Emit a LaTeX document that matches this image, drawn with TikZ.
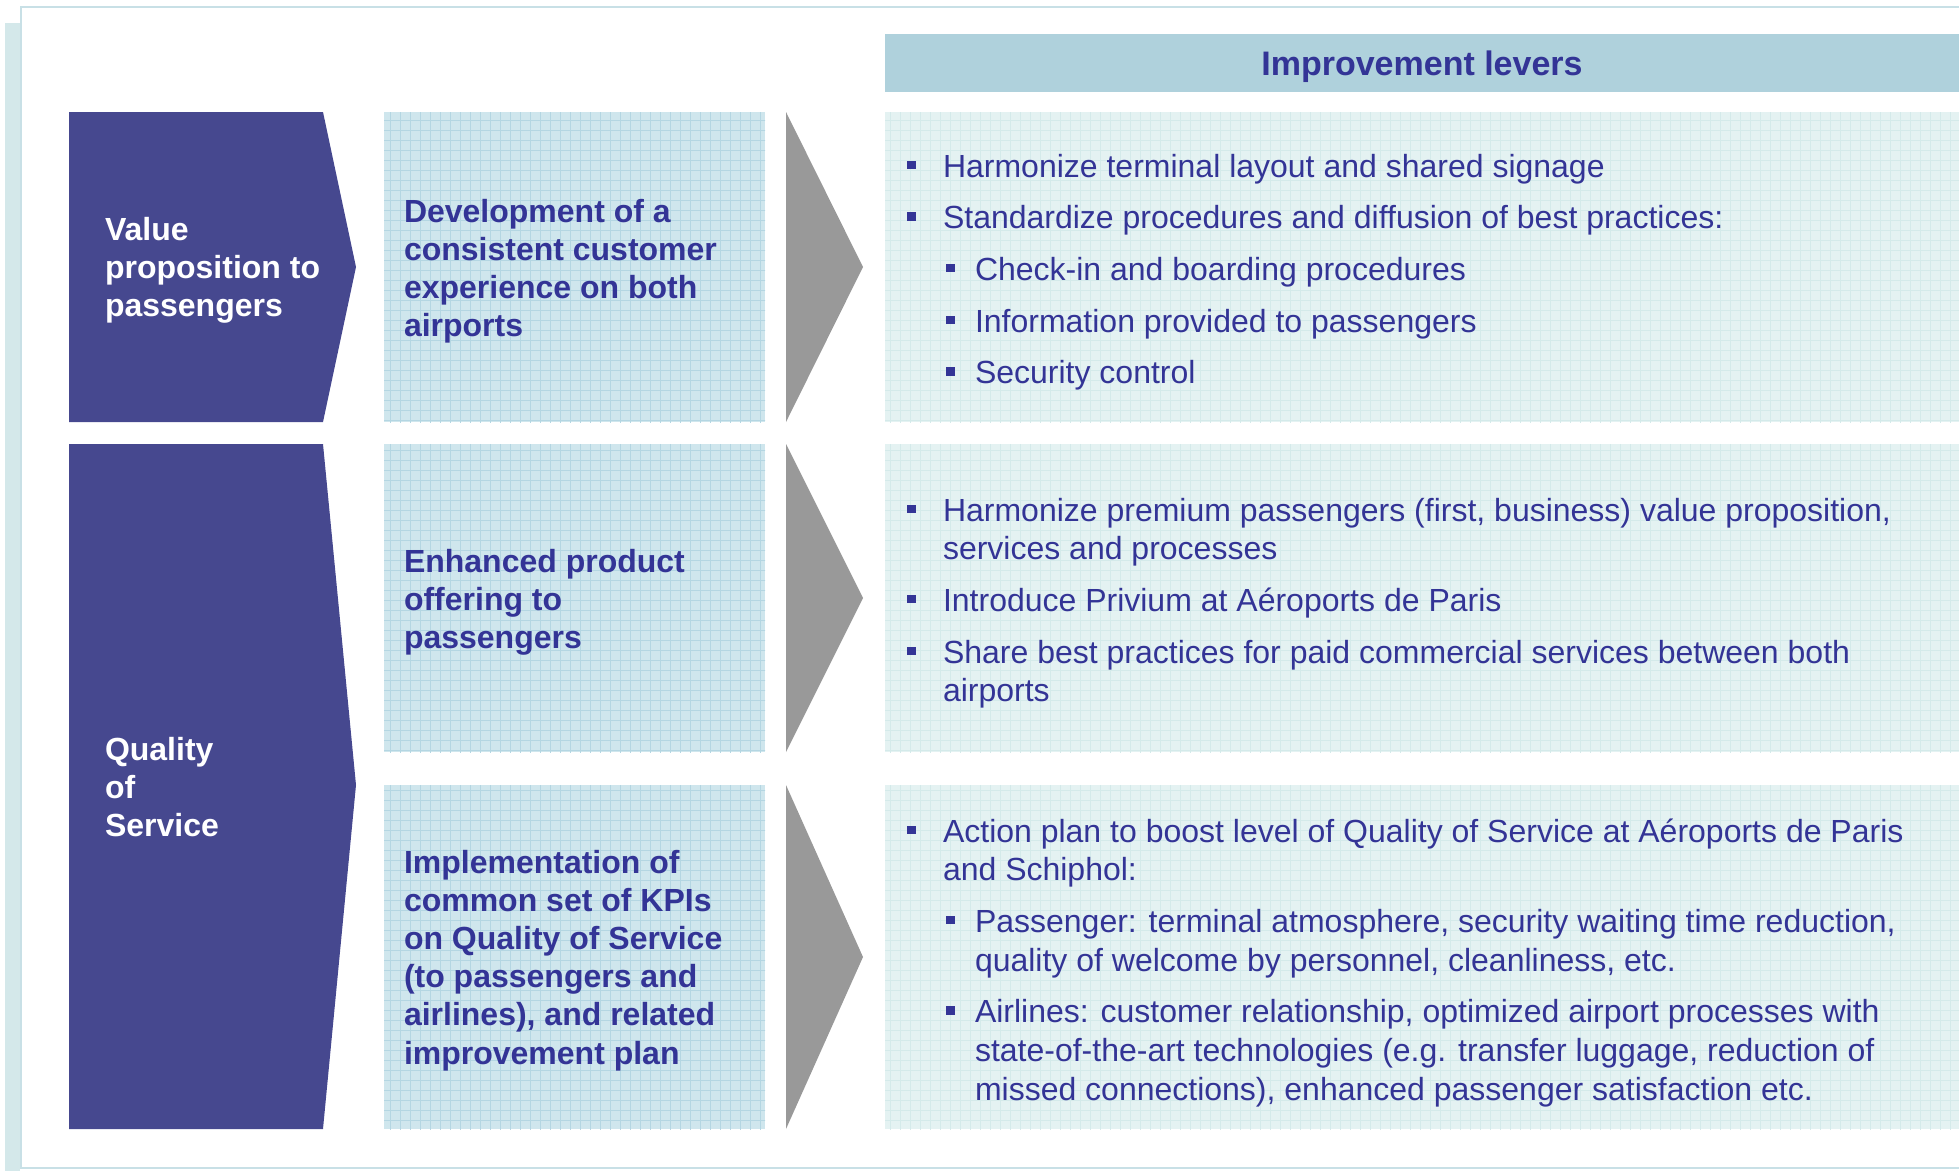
\documentclass[tikz,border=0pt]{standalone}
\usepackage{fontspec}
\setmainfont{Liberation Sans}
\definecolor{purpc}{RGB}{70,72,143}
\definecolor{txtc}{RGB}{51,52,150}
\definecolor{hdc}{RGB}{175,209,220}
\definecolor{midc}{RGB}{207,230,237}
\definecolor{midgrid}{RGB}{180,214,226}
\definecolor{rgtc}{RGB}{228,242,242}
\definecolor{rgtgrid}{RGB}{212,234,234}
\definecolor{greyc}{RGB}{153,153,153}
\definecolor{framec}{RGB}{200,224,230}
\definecolor{shadc}{RGB}{212,232,234}
\newcommand\lvbul{\makebox[36pt][l]{\raisebox{8pt}{\rule{8.5pt}{8.5pt}}}}
\newcommand\lvsub{\hspace*{39pt}\makebox[29pt][l]{\raisebox{8pt}{\rule{8.5pt}{8.5pt}}}}
\newcommand\lvind{\hspace*{36pt}}
\newcommand\lvsind{\hspace*{68pt}}
\newcommand\rtext[1]{\parbox[t]{1040pt}{\leavevmode\fontsize{32}{38.7}\selectfont\color{txtc}#1}}
\newcommand\mtext[1]{\parbox[t]{350pt}{\leavevmode\bfseries\fontsize{32}{38.2}\selectfont\color{txtc}#1}}
\newcommand\ptext[1]{\parbox[t]{240pt}{\leavevmode\bfseries\fontsize{32}{38}\selectfont\color{white}#1}}
\tikzset{
  purp/.style={fill=purpc},
  greyarrow/.style={fill=greyc},
  midgridstyle/.style={draw=midgrid, line width=0.8pt},
  rgtgridstyle/.style={draw=rgtgrid, line width=0.8pt},
  txtnode/.style={anchor=base west, inner sep=0pt, outer sep=0pt},
}
\begin{document}
\begin{tikzpicture}[x=1pt, y=-1pt]
\useasboundingbox (0,0) rectangle (1959,1171);
% frame
\fill[shadc] (5,23) rectangle (20,1171);
\draw[framec, line width=2pt] (1959,7) -- (21,7) -- (21,1168) -- (1959,1168);
% header
\fill[hdc] (885,34) rectangle (1959,92);
\node[anchor=base, inner sep=0pt, text=txtc, font=\bfseries\fontsize{34}{40}\selectfont] (hd) at (1422,75) {Improvement levers};
% purple chevrons
\fill[purp] (69,112) -- (323,112) -- (356,267) -- (323,422) -- (69,422) -- cycle;
\fill[purp] (69,444) -- (323,444) -- (356,785) -- (323,1129) -- (69,1129) -- cycle;
% middle boxes
\foreach \ya/\yb in {112/422, 444/752, 785/1129}{
  \fill[midc] (384,\ya) rectangle (765,\yb);
  \begin{scope}
    \clip (384,\ya) rectangle (765,\yb);
    \draw[midgridstyle, step=10pt] (380,\ya-10) grid (770,\yb+10);
  \end{scope}
  \fill[rgtc] (885,\ya) rectangle (1959,\yb);
  \begin{scope}
    \clip (885,\ya) rectangle (1959,\yb);
    \draw[rgtgridstyle, step=10pt] (880,\ya-10) grid (1960,\yb+10);
  \end{scope}
}
% grey arrows
\fill[greyarrow] (786,112) -- (863,267) -- (786,422) -- cycle;
\fill[greyarrow] (786,444) -- (863,598) -- (786,752) -- cycle;
\fill[greyarrow] (786,785) -- (863,957) -- (786,1129) -- cycle;
% purple texts
\node[txtnode] (p1) at (105,240) {\ptext{Value\\proposition to\\passengers}};
\node[txtnode] (p2) at (105,760) {\ptext{Quality\\of\\Service}};
% middle texts
\node[txtnode] (m1) at (404,222) {\mtext{Development of a\\consistent customer\\experience on both\\airports}};
\node[txtnode] (m2) at (404,572) {\mtext{Enhanced product\\offering to\\passengers}};
\node[txtnode] (m3) at (404,873) {\mtext{Implementation of\\common set of KPIs\\on Quality of Service\\(to passengers and\\airlines), and related\\improvement plan}};
% right texts
\node[txtnode] (r1) at (907,177) {\rtext{%
\lvbul Harmonize terminal layout and shared signage\\[13pt]
\lvbul Standardize procedures and diffusion of best practices:\\[13pt]
\lvsub Check-in and boarding procedures\\[13pt]
\lvsub Information provided to passengers\\[13pt]
\lvsub Security control}};
\node[txtnode] (r2) at (907,521) {\rtext{%
\lvbul Harmonize premium passengers (first, business) value proposition,\\
\lvind services and processes\\[13pt]
\lvbul Introduce Privium at Aéroports de Paris\\[13pt]
\lvbul Share best practices for paid commercial services between both\\
\lvind airports}};
\node[txtnode] (r3) at (907,842) {\rtext{%
\lvbul Action plan to boost level of Quality of Service at Aéroports de Paris\\
\lvind and Schiphol:\\[13pt]
\lvsub Passenger: terminal atmosphere, security waiting time reduction,\\
\lvsind quality of welcome by personnel, cleanliness, etc.\\[13pt]
\lvsub Airlines: customer relationship, optimized airport processes with\\
\lvsind state-of-the-art technologies (e.g. transfer luggage, reduction of\\
\lvsind missed connections), enhanced passenger satisfaction etc.}};
\end{tikzpicture}
\end{document}
